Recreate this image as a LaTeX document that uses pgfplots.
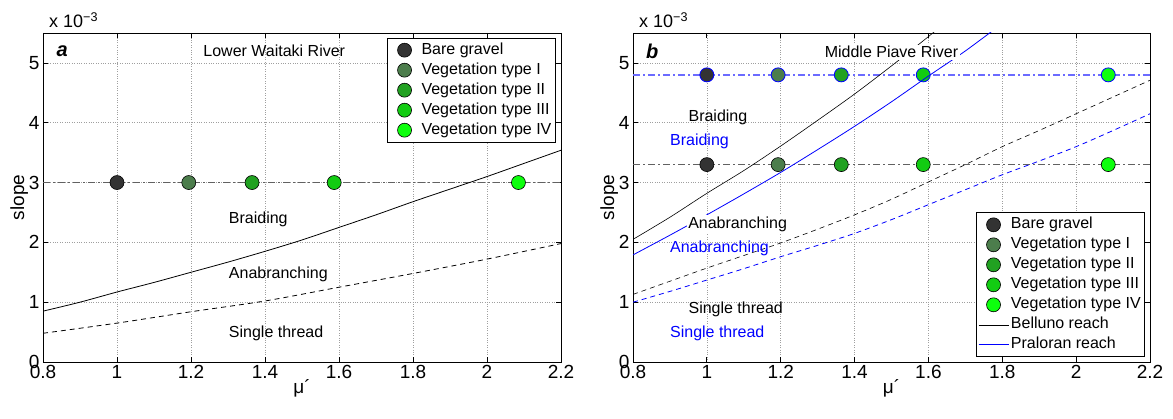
\documentclass[border=0pt]{standalone}
\usepackage{fontspec}
\setmainfont{Liberation Sans}
\usepackage{pgfplots}
\pgfplotsset{compat=1.18}
\definecolor{cbare}{rgb}{0.2,0.2,0.2}
\definecolor{cvi}{rgb}{0.3,0.49,0.3}
\definecolor{cvii}{rgb}{0.13,0.63,0.13}
\definecolor{cviii}{rgb}{0.07,0.8,0.07}
\definecolor{cviv}{rgb}{0.05,1,0.05}
\definecolor{lblue}{rgb}{0.42,0.42,1}
\definecolor{dgray}{rgb}{0.38,0.38,0.38}
\pgfplotsset{
 myaxis/.style={
  scale only axis, width=518pt, height=329pt,
  xmin=0.8, xmax=2.2, ymin=0, ymax=5.5,
  xtick={0.8,1,1.2,1.4,1.6,1.8,2,2.2},
  ytick={0,1,2,3,4,5},
  grid=major,
  major grid style={dotted, gray!75, line width=0.7pt},
  major tick length=5pt,
  axis line style={line width=0.8pt},
  every tick/.style={line width=0.8pt, black},
  tick label style={font=\fontsize{19}{19}\selectfont},
  /pgf/number format/assume math mode=true,
  xlabel={μ´}, ylabel={slope},
  label style={font=\fontsize{19}{19}\selectfont},
  xlabel style={yshift=6pt},
  ylabel style={yshift=-6pt},
  clip mode=individual,
  legend style={font=\fontsize{16}{19}\selectfont, draw=black, line width=0.8pt,
     inner sep=2pt, row sep=0pt,
     nodes={inner sep=2pt, text height=12pt, text depth=4pt}},
  legend cell align=left,
  legend image code/.code={\path[draw=none,fill=none] (0pt,-1pt) (30pt,1pt);\draw[mark repeat=2,mark phase=2,#1] plot coordinates {(0pt,0pt) (15pt,0pt) (30pt,0pt)};},
 },
 pt/.style={only marks, mark=*, mark size=7pt, mark options={draw=black, line width=0.6pt, fill=#1}},
 ptb/.style={only marks, mark=*, mark size=7pt, mark options={draw=blue, line width=0.8pt, fill=#1}},
 dashdot/.style={line width=1.3pt, dash pattern=on 7pt off 3pt on 2pt off 3pt},
 dsh/.style={line width=0.8pt, dash pattern=on 5pt off 4pt},
}
\begin{document}
\begin{tikzpicture}
\useasboundingbox (0,0) rectangle (1173pt,419pt);
% ---------------- panel a ----------------
\begin{axis}[myaxis, at={(43pt,57pt)}, anchor=south west,
  legend style={at={(axis cs:2.186,5.42)}, anchor=north east}]
\addplot[dgray, dashdot, forget plot] coordinates {(0.8,3) (2.2,3)};
\addplot[pt=cbare] coordinates {(1.0,3)};
\addlegendentry{Bare gravel}
\addplot[pt=cvi] coordinates {(1.194,3)};
\addlegendentry{Vegetation type I}
\addplot[pt=cvii] coordinates {(1.365,3)};
\addlegendentry{Vegetation type II}
\addplot[pt=cviii] coordinates {(1.587,3)};
\addlegendentry{Vegetation type III}
\addplot[pt=cviv] coordinates {(2.085,3)};
\addlegendentry{Vegetation type IV}
\addplot[black, line width=0.8pt, smooth, forget plot] coordinates {
(0.8,0.85) (0.9,1.0) (1.0,1.17) (1.1,1.33) (1.2,1.5) (1.3,1.67) (1.4,1.85) (1.5,2.04)
(1.6,2.25) (1.7,2.46) (1.8,2.68) (1.9,2.89) (2.0,3.1) (2.1,3.32) (2.2,3.54)};
\addplot[black, dsh, smooth, forget plot] coordinates {
(0.8,0.48) (1.0,0.65) (1.2,0.84) (1.4,1.02) (1.6,1.25) (1.8,1.48) (2.0,1.72) (2.2,1.98)};
\node[font=\fontsize{20}{20}\selectfont\bfseries\itshape] at (axis cs:0.852,5.2) {a};
\node[font=\fontsize{16}{16}\selectfont] at (axis cs:1.425,5.2) {Lower Waitaki River};
\node[font=\fontsize{16}{16}\selectfont, anchor=west, inner sep=0pt] at (axis cs:1.302,2.39) {Braiding};
\node[font=\fontsize{16}{16}\selectfont, anchor=west, inner sep=0pt] at (axis cs:1.302,1.46) {Anabranching};
\node[font=\fontsize{16}{16}\selectfont, anchor=west, inner sep=0pt] at (axis cs:1.302,0.48) {Single thread};
\node[font=\fontsize{18}{18}\selectfont, anchor=south west, inner sep=0pt] at (rel axis cs:0,1) [xshift=6pt, yshift=5pt] {x 10\textsuperscript{−3}};
\end{axis}
% ---------------- panel b ----------------
\begin{axis}[myaxis, at={(633pt,57pt)}, anchor=south west, width=517pt,
  legend style={at={(axis cs:2.187,0.08)}, anchor=south east}]
\addplot[lblue, dashdot, forget plot] coordinates {(0.8,4.8) (2.2,4.8)};
\addplot[dgray, dashdot, forget plot] coordinates {(0.8,3.3) (2.2,3.3)};
\addplot[ptb=cbare, forget plot] coordinates {(1.0,4.8)};
\addplot[ptb=cvi, forget plot] coordinates {(1.193,4.8)};
\addplot[ptb=cvii, forget plot] coordinates {(1.364,4.8)};
\addplot[ptb=cviii, forget plot] coordinates {(1.586,4.8)};
\addplot[ptb=cviv, forget plot] coordinates {(2.087,4.8)};
\addplot[pt=cbare] coordinates {(1.0,3.3)};
\addlegendentry{Bare gravel}
\addplot[pt=cvi] coordinates {(1.193,3.3)};
\addlegendentry{Vegetation type I}
\addplot[pt=cvii] coordinates {(1.364,3.3)};
\addlegendentry{Vegetation type II}
\addplot[pt=cviii] coordinates {(1.586,3.3)};
\addlegendentry{Vegetation type III}
\addplot[pt=cviv] coordinates {(2.087,3.3)};
\addlegendentry{Vegetation type IV}
\addplot[black, line width=0.6pt, smooth, forget plot] coordinates {
(0.8,2.05) (0.9,2.42) (1.0,2.82) (1.1,3.2) (1.2,3.61) (1.3,4.04) (1.4,4.48) (1.5,4.95) (1.6,5.44) (1.7,5.95)};
\addplot[blue, line width=0.8pt, smooth, forget plot] coordinates {
(0.8,1.79) (0.9,2.12) (1.0,2.46) (1.1,2.81) (1.2,3.17) (1.3,3.55) (1.4,3.94) (1.5,4.35) (1.6,4.78) (1.7,5.2) (1.8,5.66)};
\addplot[black, dsh, line width=0.6pt, smooth, forget plot] coordinates {
(0.8,1.13) (0.9,1.35) (1.0,1.57) (1.1,1.78) (1.2,1.99) (1.3,2.22) (1.4,2.46) (1.5,2.72) (1.6,3.01) (1.7,3.3) (1.8,3.6) (1.9,3.87) (2.0,4.15) (2.1,4.43) (2.2,4.71)};
\addplot[blue, dsh, smooth, forget plot] coordinates {
(0.8,1.0) (0.9,1.18) (1.0,1.37) (1.1,1.56) (1.2,1.76) (1.3,1.95) (1.4,2.15) (1.5,2.38) (1.6,2.63) (1.7,2.88) (1.8,3.13) (1.9,3.36) (2.0,3.6) (2.1,3.87) (2.2,4.15)};
\addlegendimage{black, line width=0.6pt}
\addlegendentry{Belluno reach}
\addlegendimage{blue, line width=0.8pt}
\addlegendentry{Praloran reach}
\node[font=\fontsize{20}{20}\selectfont\bfseries\itshape] at (axis cs:0.852,5.2) {b};
\node[font=\fontsize{16}{16}\selectfont, fill=white, inner sep=1.5pt] at (axis cs:1.5,5.18) {Middle Piave River};
\node[font=\fontsize{16}{16}\selectfont, anchor=west, inner sep=0pt] at (axis cs:0.95,4.09) {Braiding};
\node[font=\fontsize{16}{16}\selectfont, anchor=west, inner sep=0pt, text=blue] at (axis cs:0.90,3.68) {Braiding};
\node[font=\fontsize{16}{16}\selectfont, anchor=west, inner sep=1.5pt, fill=white] at (axis cs:0.945,2.30) {Anabranching};
\node[font=\fontsize{16}{16}\selectfont, anchor=west, inner sep=0pt, text=blue] at (axis cs:0.90,1.90) {Anabranching};
\node[font=\fontsize{16}{16}\selectfont, anchor=west, inner sep=0pt] at (axis cs:0.95,0.88) {Single thread};
\node[font=\fontsize{16}{16}\selectfont, anchor=west, inner sep=0pt, text=blue] at (axis cs:0.90,0.48) {Single thread};
\node[font=\fontsize{18}{18}\selectfont, anchor=south west, inner sep=0pt] at (rel axis cs:0,1) [xshift=6pt, yshift=5pt] {x 10\textsuperscript{−3}};
\end{axis}
\end{tikzpicture}
\end{document}
